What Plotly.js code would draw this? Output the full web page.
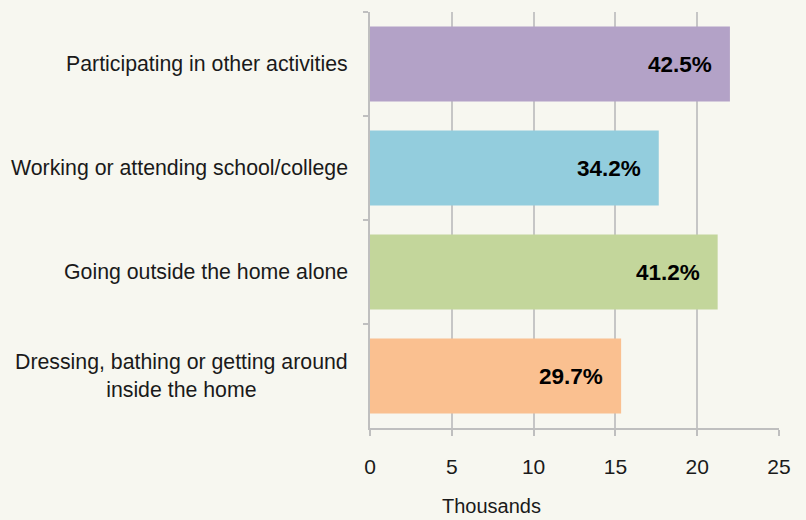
<!DOCTYPE html>
<html>
<head>
<meta charset="utf-8">
<script src="https://cdn.plot.ly/plotly-3.0.1.min.js"></script>
<style>html,body{margin:0;padding:0;background:#F7F7F0;}</style>
</head>
<body>
<div id="chart" style="width:806px;height:520px;"></div>
<script>
const categories = [
  "Participating in other activities",
  "Working or attending school/college",
  "Going outside the home alone",
  "Dressing, bathing or getting around<br>inside the home"
];
const values = [22.0, 17.65, 21.25, 15.35];
const percentLabels = ["42.5%", "34.2%", "41.2%", "29.7%"];
const barColors = ["#B3A2C7", "#93CDDD", "#C3D69B", "#FAC090"];
const xTicks = [0, 5, 10, 15, 20, 25];
const xTitle = "Thousands";

const font = "Liberation Sans, Arial, sans-serif";

const trace = {
  type: "bar",
  orientation: "h",
  y: categories,
  x: values,
  marker: { color: barColors },
  hoverinfo: "none"
};

const annotations = [];
categories.forEach((c, i) => {
  annotations.push({
    x: values[i], y: c, xref: "x", yref: "y",
    text: "<b>" + percentLabels[i] + "</b>",
    showarrow: false, xanchor: "right", yanchor: "middle", xshift: -16,
    font: { family: font, size: 22.5, color: "#000000" }
  });
  annotations.push({
    x: 0, y: c, xref: "paper", yref: "y",
    text: c, showarrow: false, xanchor: "right", yanchor: "middle", align: "center",
    xshift: -20,
    font: { family: font, size: 21.3, color: "#1a1a1a" }
  });
});
annotations.push({
  x: 0.296, y: 0, xref: "paper", yref: "paper",
  text: xTitle, showarrow: false, xanchor: "center", yanchor: "middle", yshift: -78,
  font: { family: font, size: 20, color: "#1a1a1a" }
});

const layout = {
  width: 806, height: 520,
  paper_bgcolor: "#F7F7F0", plot_bgcolor: "#F7F7F0",
  margin: { l: 370, r: 27, t: 12, b: 92 },
  bargap: 0.28,
  showlegend: false,
  xaxis: {
    range: [0, 25], tickvals: xTicks, ticktext: xTicks.map(String),
    showgrid: true, gridcolor: "#C6C6C6", gridwidth: 2,
    zeroline: false, showline: true, linecolor: "#BFBFBF", linewidth: 2,
    ticks: "outside", ticklen: 6, tickwidth: 2, tickcolor: "#BFBFBF",
    ticklabelstandoff: 13,
    tickfont: { family: font, size: 21, color: "#1a1a1a" },
    fixedrange: true
  },
  yaxis: {
    autorange: "reversed", type: "category",
    showticklabels: false, tickson: "boundaries",
    ticks: "outside", ticklen: 5, tickwidth: 2, tickcolor: "#BFBFBF",
    showgrid: false, zeroline: false,
    showline: true, linecolor: "#BFBFBF", linewidth: 2,
    fixedrange: true
  },
  annotations: annotations
};

Plotly.newPlot("chart", [trace], layout, { displayModeBar: false, staticPlot: true });
</script>
</body>
</html>
